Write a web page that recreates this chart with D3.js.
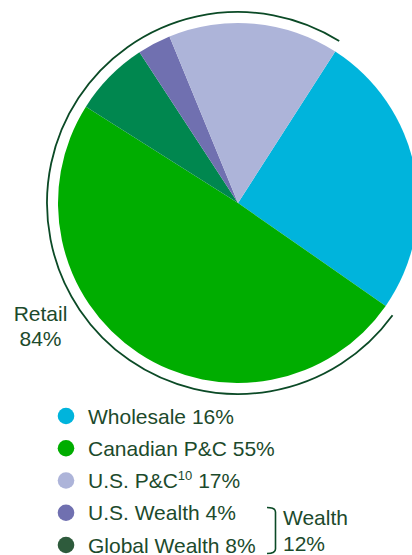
<!DOCTYPE html>
<html>
<head>
<meta charset="utf-8">
<script src="https://cdn.jsdelivr.net/npm/d3@7"></script>
<style>
  html, body { margin: 0; padding: 0; background: #fff; }
  svg { display: block; font-family: "Liberation Sans", Arial, sans-serif; }
</style>
</head>
<body>
<div id="chart"></div>
<script>
// Slice order, clockwise from the top-right
const segments = ["Wholesale", "Canadian P&C", "Global Wealth", "U.S. Wealth", "U.S. P&C"];
// Angular share of each slice as drawn in the picture (%)
const sliceShares = [25.6, 49.3, 6.8, 3.0, 15.3];

// Legend rows, in legend order
const legendNames = ["Wholesale", "Canadian P&C", "U.S. P&C", "U.S. Wealth", "Global Wealth"];
const legendPct = [16, 55, 17, 4, 8];
const legendSup = ["", "", "10", "", ""];

const retailLabel = ["Retail", "84%"];
const wealthLabel = ["Wealth", "12%"];

const width = 412;
const height = 555;
const textColor = "#1c4a2c";

const sliceColor = d3.scaleOrdinal()
  .domain(segments)
  .range(["#00b4dc", "#00ad00", "#00874f", "#7070b0", "#adb4d9"]);
const legendColor = d3.scaleOrdinal()
  .domain(legendNames)
  .range(["#00b4dc", "#00ad00", "#adb4d9", "#7070b0", "#2e5b3c"]);

const svg = d3.select("#chart")
  .append("svg")
  .attr("width", width)
  .attr("height", height);

const cx = 238, cy = 203, r = 180;
const deg = Math.PI / 180;
const start = 32.7 * deg;

const pie = d3.pie()
  .sort(null)
  .value(d => d.v)
  .startAngle(start)
  .endAngle(start + 2 * Math.PI);
const arc = d3.arc().innerRadius(0).outerRadius(r);

const gPie = svg.append("g").attr("transform", `translate(${cx},${cy})`);
gPie.selectAll("path")
  .data(pie(segments.map((k, i) => ({ k, v: sliceShares[i] }))))
  .join("path")
  .attr("d", arc)
  .attr("fill", d => sliceColor(d.data.k));

// Retail arc round everything but Wholesale
const retailArc = d3.arc()
  .innerRadius(191)
  .outerRadius(191)
  .startAngle(126 * deg)
  .endAngle(392 * deg);
gPie.append("path")
  .attr("d", retailArc())
  .attr("fill", "none")
  .attr("stroke", "#0b4a26")
  .attr("stroke-width", 1.8);

svg.append("text")
  .attr("x", 40.5)
  .attr("y", 321)
  .attr("text-anchor", "middle")
  .attr("font-size", 21)
  .attr("fill", textColor)
  .selectAll("tspan")
  .data(retailLabel)
  .join("tspan")
  .attr("x", 40.5)
  .attr("dy", (d, i) => i === 0 ? 0 : 25)
  .text(d => d);

// Legend
const y = d3.scalePoint().domain(legendNames).range([416, 545]);
const rows = svg.append("g").selectAll("g")
  .data(legendNames)
  .join("g")
  .attr("transform", d => `translate(0,${y(d)})`);
rows.append("circle")
  .attr("cx", 66)
  .attr("cy", 0)
  .attr("r", 8.3)
  .attr("fill", d => legendColor(d));
const txt = rows.append("text")
  .attr("x", 88)
  .attr("y", 7.5)
  .attr("font-size", 21)
  .attr("fill", textColor);
txt.each(function(d, i) {
  const t = d3.select(this);
  t.append("tspan").text(d);
  if (legendSup[i]) {
    t.append("tspan").attr("font-size", 13).attr("dy", -8).text(legendSup[i]);
    t.append("tspan").attr("dy", 8).text(" " + legendPct[i] + "%");
  } else {
    t.append("tspan").text(" " + legendPct[i] + "%");
  }
});

// Wealth bracket
svg.append("path")
  .attr("d", "M267,507.5 Q275.5,507.5 275.5,512 L275.5,549 Q275.5,553.5 267,553.5")
  .attr("fill", "none")
  .attr("stroke", "#0b4a26")
  .attr("stroke-width", 1.6);
svg.append("text")
  .attr("font-size", 21)
  .attr("fill", textColor)
  .selectAll("tspan")
  .data(wealthLabel)
  .join("tspan")
  .attr("x", 283)
  .attr("y", (d, i) => 525 + i * 25.5)
  .text(d => d);
</script>
</body>
</html>
